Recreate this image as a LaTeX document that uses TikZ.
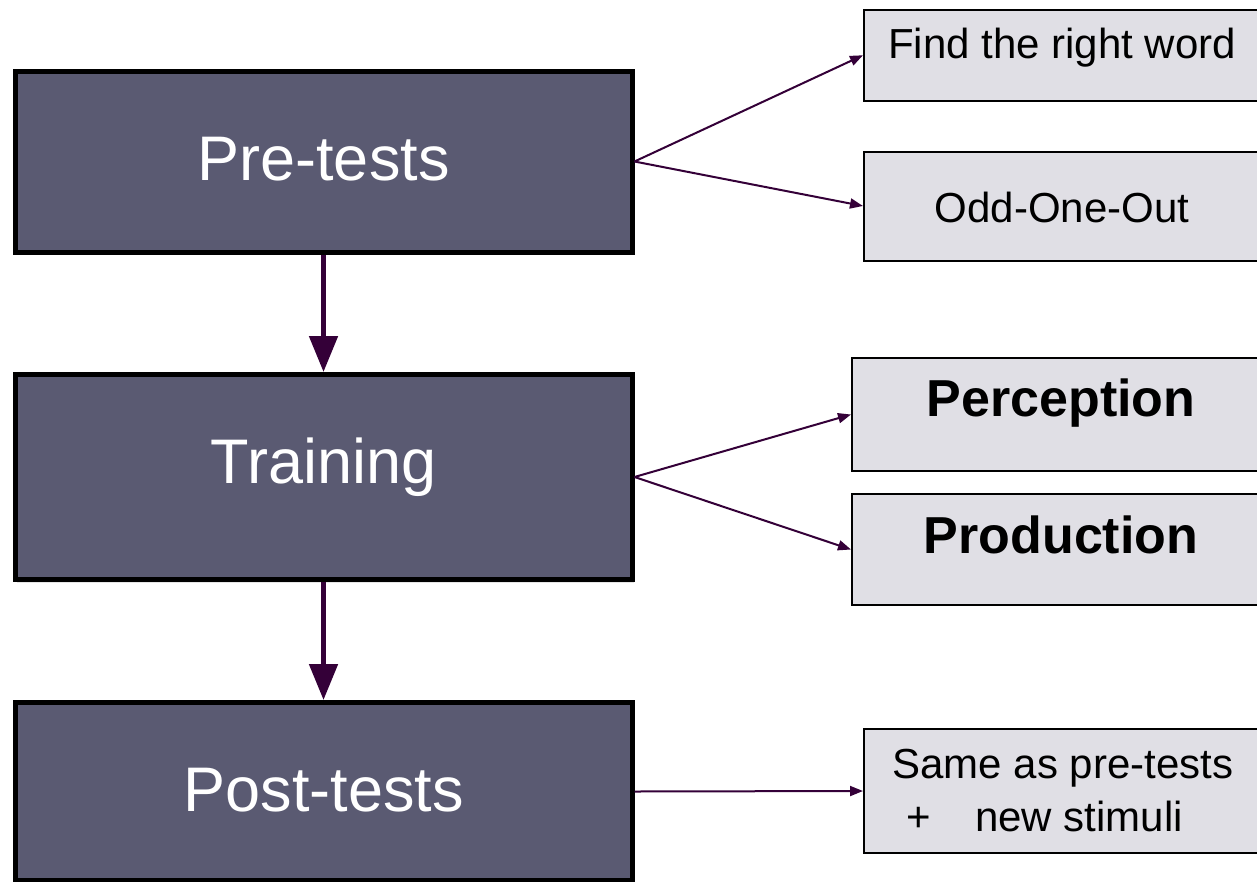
\documentclass[tikz,border=0pt]{standalone}
\usepackage{fontspec}
\setmainfont{Liberation Sans}
\usepackage{xcolor}
\usepackage{tikz}
\usetikzlibrary{arrows.meta}
\usetikzlibrary{shadows}
\definecolor{stagefill}{RGB}{90,90,114}
\definecolor{taskfill}{RGB}{224,223,229}
\definecolor{arrowcol}{RGB}{52,0,56}
\tikzstyle{stage}=[draw=black,line width=5pt,fill=stagefill,text=white,inner sep=0pt,anchor=north west,minimum width=617pt,text height=109pt,font=\fontsize{63}{75}\selectfont,drop shadow={shadow xshift=2pt,shadow yshift=-3pt,opacity=.2}]
\tikzstyle{task}=[draw=black,line width=2pt,fill=taskfill,inner sep=0pt,anchor=north west,font=\fontsize{42}{53}\selectfont]
\tikzstyle{flow}=[line width=5pt,arrowcol,-{Triangle[length=36pt,width=28pt]}]
\tikzstyle{link}=[line width=2pt,arrowcol,-{Triangle[length=13pt,width=10pt]}]

\begin{document}
\begin{tikzpicture}[x=1pt,y=-1pt]
	\useasboundingbox (0,0) rectangle (1257,881);
	\fill[white] (0,0) rectangle (1257,881);
	% stages
	\node[stage,text height=109.5pt,text depth=71.5pt] (pre)   at (12.5,68.5) {Pre-tests};
	\node[stage,text depth=96pt]                      (train) at (12.5,372)  {Training};
	\node[stage,text depth=69pt]                      (post)  at (12.5,700)  {Post-tests};
	% tasks
	\node[task,minimum width=396pt,text height=48.5pt,text depth=43pt] (find) at (863,8.5)   {Find the right word};
	\node[task,minimum width=396pt,text height=70.5pt,text depth=38.5pt] (odd) at (863,150.5) {Odd-One-Out};
	\node[task,minimum width=418pt,text height=58pt,text depth=55pt,font=\fontsize{52}{62}\selectfont\bfseries] (perc) at (851,357) {Perception};
	\node[task,minimum width=418pt,text height=59pt,text depth=52pt,font=\fontsize{52}{62}\selectfont\bfseries] (prod) at (851,493) {Production};
	\node[task,minimum width=398pt,minimum height=124pt,align=left] (same) at (863,728) {Same as pre-tests\\\hspace*{14pt}+\hspace{44pt}new stimuli};
	% connectors
	\draw[flow] (pre.south) -- (train.north);
	\draw[flow] (train.south) -- (post.north);
	\draw[link] (pre.east) -- (find.west);
	\draw[link] (pre.east) -- (odd.west);
	\draw[link] (train.east) -- (perc.west);
	\draw[link] (train.east) -- (prod.west);
	\draw[link] (post.east) -- (same.west);
\end{tikzpicture}
\end{document}
